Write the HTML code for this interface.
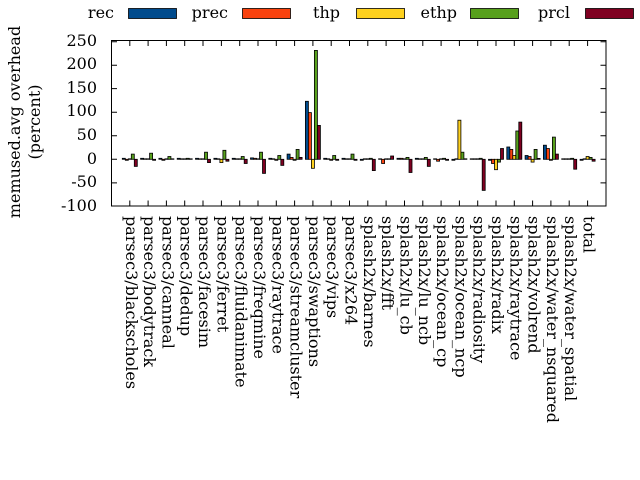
<!DOCTYPE html>
<html><head><meta charset="utf-8"><style>html,body{margin:0;padding:0;background:#fff}svg{display:block}
.a{fill:#004b8d}.b{fill:#f9420e}.c{fill:#fed11e}.d{fill:#57a01c}.e{fill:#7f0021}
rect{stroke:#000;stroke-width:0.8}
</style></head>
<body>
<svg width="640" height="480" xmlns="http://www.w3.org/2000/svg" font-family="DejaVu Serif, serif" font-size="16">
<text x="114" y="18" text-anchor="end">rec</text>
<rect x="128.5" y="8.5" width="48" height="10" class="a"/>
<text x="228" y="18" text-anchor="end">prec</text>
<rect x="242.5" y="8.5" width="48" height="10" class="b"/>
<text x="340" y="18" text-anchor="end">thp</text>
<rect x="356.5" y="8.5" width="48" height="10" class="c"/>
<text x="457" y="18" text-anchor="end">ethp</text>
<rect x="470.5" y="8.5" width="48" height="10" class="d"/>
<text x="570" y="18" text-anchor="end">prcl</text>
<rect x="585.5" y="8.5" width="48" height="10" class="e"/>

<g text-anchor="end">
<text x="97" y="46">250</text><text x="97" y="69">200</text><text x="97" y="93">150</text>
<text x="97" y="116">100</text><text x="97" y="140">50</text><text x="97" y="164">0</text>
<text x="97" y="187">-50</text><text x="97" y="211">-100</text>
</g>
<text transform="translate(20,122) rotate(-90)" text-anchor="middle">memused.avg overhead</text>
<text transform="translate(40,122) rotate(-90)" text-anchor="middle">(percent)</text>

<g stroke="#000" stroke-width="1">
<path d="M111.5 41.8h5.5M111.5 65.3h5.5M111.5 88.6h5.5M111.5 112.2h5.5M111.5 135.7h5.5M111.5 159.3h5.5M111.5 182.9h5.5M606 41.8h-5.5M606 65.3h-5.5M606 88.6h-5.5M606 112.2h-5.5M606 135.7h-5.5M606 159.3h-5.5M606 182.9h-5.5"/>
<path d="M129.8 206v-5.5M148.1 206v-5.5M166.4 206v-5.5M184.7 206v-5.5M203 206v-5.5M221.4 206v-5.5M239.7 206v-5.5M258 206v-5.5M276.3 206v-5.5M294.6 206v-5.5M312.9 206v-5.5M331.2 206v-5.5M349.5 206v-5.5M367.8 206v-5.5M386.1 206v-5.5M404.5 206v-5.5M422.8 206v-5.5M441.1 206v-5.5M459.4 206v-5.5M477.7 206v-5.5M496 206v-5.5M514.3 206v-5.5M532.6 206v-5.5M550.9 206v-5.5M569.2 206v-5.5M587.6 206v-5.5"/>
<path d="M129.8 40.5v5.5M148.1 40.5v5.5M166.4 40.5v5.5M184.7 40.5v5.5M203 40.5v5.5M221.4 40.5v5.5M239.7 40.5v5.5M258 40.5v5.5M276.3 40.5v5.5M294.6 40.5v5.5M312.9 40.5v5.5M331.2 40.5v5.5M349.5 40.5v5.5M367.8 40.5v5.5M386.1 40.5v5.5M404.5 40.5v5.5M422.8 40.5v5.5M441.1 40.5v5.5M459.4 40.5v5.5M477.7 40.5v5.5M496 40.5v5.5M514.3 40.5v5.5M532.6 40.5v5.5M550.9 40.5v5.5M569.2 40.5v5.5M587.6 40.5v5.5"/>
</g>

<!-- bars: x offsets -7.5,-4.5,-1.5,1.5,4.5 -->
<g transform="translate(129.8,0)"><rect x="-7.5" y="158.3" width="3" height="1" class="a"/><rect x="-4.5" y="159.3" width="3" height="1" class="b"/><rect x="-1.5" y="158.8" width="3" height="0.5" class="c"/><rect x="1.5" y="154.1" width="3" height="5.2" class="d"/><rect x="4.5" y="159.3" width="3" height="7.1" class="e"/></g>
<g transform="translate(148.1,0)"><rect x="-7.5" y="158.3" width="3" height="1" class="a"/><rect x="-4.5" y="158.8" width="3" height="0.5" class="b"/><rect x="-1.5" y="158.8" width="3" height="0.5" class="c"/><rect x="1.5" y="153.2" width="3" height="6.1" class="d"/><rect x="4.5" y="159.3" width="3" height="1" class="e"/></g>
<g transform="translate(166.4,0)"><rect x="-7.5" y="158.3" width="3" height="1" class="a"/><rect x="-4.5" y="159.3" width="3" height="1" class="b"/><rect x="-1.5" y="158.8" width="3" height="0.5" class="c"/><rect x="1.5" y="156.5" width="3" height="2.8" class="d"/><rect x="4.5" y="158.8" width="3" height="0.5" class="e"/></g>
<g transform="translate(184.7,0)"><rect x="-7.5" y="158.3" width="3" height="1" class="a"/><rect x="-4.5" y="158.8" width="3" height="0.5" class="b"/><rect x="-1.5" y="158.8" width="3" height="0.5" class="c"/><rect x="1.5" y="158.3" width="3" height="1" class="d"/><rect x="4.5" y="158.8" width="3" height="0.5" class="e"/></g>
<g transform="translate(203,0)"><rect x="-7.5" y="158.3" width="3" height="1" class="a"/><rect x="-4.5" y="158.8" width="3" height="0.5" class="b"/><rect x="-1.5" y="158.8" width="3" height="0.5" class="c"/><rect x="1.5" y="152.2" width="3" height="7.1" class="d"/><rect x="4.5" y="159.3" width="3" height="3.3" class="e"/></g>
<g transform="translate(221.4,0)"><rect x="-7.5" y="158.3" width="3" height="1" class="a"/><rect x="-4.5" y="158.8" width="3" height="0.5" class="b"/><rect x="-1.5" y="159.3" width="3" height="3.3" class="c"/><rect x="1.5" y="150.3" width="3" height="9" class="d"/><rect x="4.5" y="159.3" width="3" height="1.9" class="e"/></g>
<g transform="translate(239.7,0)"><rect x="-7.5" y="158.3" width="3" height="1" class="a"/><rect x="-4.5" y="158.8" width="3" height="0.5" class="b"/><rect x="-1.5" y="158.8" width="3" height="0.5" class="c"/><rect x="1.5" y="156.5" width="3" height="2.8" class="d"/><rect x="4.5" y="159.3" width="3" height="4.2" class="e"/></g>
<g transform="translate(258,0)"><rect x="-7.5" y="157.9" width="3" height="1.4" class="a"/><rect x="-4.5" y="158.3" width="3" height="1" class="b"/><rect x="-1.5" y="158.8" width="3" height="0.5" class="c"/><rect x="1.5" y="152.2" width="3" height="7.1" class="d"/><rect x="4.5" y="159.3" width="3" height="14.1" class="e"/></g>
<g transform="translate(276.3,0)"><rect x="-7.5" y="158.3" width="3" height="1" class="a"/><rect x="-4.5" y="158.8" width="3" height="0.5" class="b"/><rect x="-1.5" y="159.3" width="3" height="1" class="c"/><rect x="1.5" y="155.5" width="3" height="3.8" class="d"/><rect x="4.5" y="159.3" width="3" height="6.1" class="e"/></g>
<g transform="translate(294.6,0)"><rect x="-7.5" y="154.1" width="3" height="5.2" class="a"/><rect x="-4.5" y="157.4" width="3" height="1.9" class="b"/><rect x="-1.5" y="159.3" width="3" height="1" class="c"/><rect x="1.5" y="149.4" width="3" height="9.9" class="d"/><rect x="4.5" y="157.4" width="3" height="1.9" class="e"/></g>
<g transform="translate(312.9,0)"><rect x="-7.5" y="101.3" width="3" height="58" class="a"/><rect x="-4.5" y="112.6" width="3" height="46.7" class="b"/><rect x="-1.5" y="159.3" width="3" height="9" class="c"/><rect x="1.5" y="50.4" width="3" height="108.9" class="d"/><rect x="4.5" y="125.4" width="3" height="33.9" class="e"/></g>
<g transform="translate(331.2,0)"><rect x="-7.5" y="158.3" width="3" height="1" class="a"/><rect x="-4.5" y="158.8" width="3" height="0.5" class="b"/><rect x="-1.5" y="159.3" width="3" height="1" class="c"/><rect x="1.5" y="155.5" width="3" height="3.8" class="d"/><rect x="4.5" y="159.3" width="3" height="1" class="e"/></g>
<g transform="translate(349.5,0)"><rect x="-7.5" y="158.3" width="3" height="1" class="a"/><rect x="-4.5" y="158.8" width="3" height="0.5" class="b"/><rect x="-1.5" y="158.8" width="3" height="0.5" class="c"/><rect x="1.5" y="154.1" width="3" height="5.2" class="d"/><rect x="4.5" y="159.3" width="3" height="1" class="e"/></g>
<g transform="translate(367.8,0)"><rect x="-7.5" y="159.3" width="3" height="1" class="a"/><rect x="-4.5" y="158.8" width="3" height="0.5" class="b"/><rect x="-1.5" y="158.8" width="3" height="0.5" class="c"/><rect x="1.5" y="158.3" width="3" height="1" class="d"/><rect x="4.5" y="159.3" width="3" height="11.3" class="e"/></g>
<g transform="translate(386.1,0)"><rect x="-7.5" y="158.8" width="3" height="0.5" class="a"/><rect x="-4.5" y="159.3" width="3" height="4.2" class="b"/><rect x="-1.5" y="158.8" width="3" height="0.5" class="c"/><rect x="1.5" y="158.8" width="3" height="0.5" class="d"/><rect x="4.5" y="156" width="3" height="3.3" class="e"/></g>
<g transform="translate(404.5,0)"><rect x="-7.5" y="158.3" width="3" height="1" class="a"/><rect x="-4.5" y="158.3" width="3" height="1" class="b"/><rect x="-1.5" y="158.8" width="3" height="0.5" class="c"/><rect x="1.5" y="157.4" width="3" height="1.9" class="d"/><rect x="4.5" y="159.3" width="3" height="13.2" class="e"/></g>
<g transform="translate(422.8,0)"><rect x="-7.5" y="158.3" width="3" height="1" class="a"/><rect x="-4.5" y="158.8" width="3" height="0.5" class="b"/><rect x="-1.5" y="158.8" width="3" height="0.5" class="c"/><rect x="1.5" y="157.4" width="3" height="1.9" class="d"/><rect x="4.5" y="159.3" width="3" height="7.1" class="e"/></g>
<g transform="translate(441.1,0)"><rect x="-7.5" y="158.8" width="3" height="0.5" class="a"/><rect x="-4.5" y="159.3" width="3" height="1.9" class="b"/><rect x="-1.5" y="158.8" width="3" height="0.5" class="c"/><rect x="1.5" y="158.3" width="3" height="1" class="d"/><rect x="4.5" y="159.3" width="3" height="1" class="e"/></g>
<g transform="translate(459.4,0)"><rect x="-7.5" y="159.3" width="3" height="1" class="a"/><rect x="-4.5" y="158.8" width="3" height="0.5" class="b"/><rect x="-1.5" y="120.2" width="3" height="39.1" class="c"/><rect x="1.5" y="152.2" width="3" height="7.1" class="d"/><rect x="4.5" y="158.8" width="3" height="0.5" class="e"/></g>
<g transform="translate(477.7,0)"><rect x="-7.5" y="158.8" width="3" height="0.5" class="a"/><rect x="-4.5" y="158.8" width="3" height="0.5" class="b"/><rect x="-1.5" y="158.8" width="3" height="0.5" class="c"/><rect x="1.5" y="158.3" width="3" height="1" class="d"/><rect x="4.5" y="159.3" width="3" height="31.1" class="e"/></g>
<g transform="translate(496,0)"><rect x="-7.5" y="159.3" width="3" height="1" class="a"/><rect x="-4.5" y="159.3" width="3" height="4.2" class="b"/><rect x="-1.5" y="159.3" width="3" height="10.4" class="c"/><rect x="1.5" y="159.3" width="3" height="2.8" class="d"/><rect x="4.5" y="148.5" width="3" height="10.8" class="e"/></g>
<g transform="translate(514.3,0)"><rect x="-7.5" y="147" width="3" height="12.3" class="a"/><rect x="-4.5" y="149.4" width="3" height="9.9" class="b"/><rect x="-1.5" y="155.5" width="3" height="3.8" class="c"/><rect x="1.5" y="131" width="3" height="28.3" class="d"/><rect x="4.5" y="122.1" width="3" height="37.2" class="e"/></g>
<g transform="translate(532.6,0)"><rect x="-7.5" y="155.5" width="3" height="3.8" class="a"/><rect x="-4.5" y="156.5" width="3" height="2.8" class="b"/><rect x="-1.5" y="159.3" width="3" height="2.8" class="c"/><rect x="1.5" y="149.4" width="3" height="9.9" class="d"/><rect x="4.5" y="158.4" width="3" height="0.9" class="e"/></g>
<g transform="translate(550.9,0)"><rect x="-7.5" y="145.2" width="3" height="14.1" class="a"/><rect x="-4.5" y="148.5" width="3" height="10.8" class="b"/><rect x="-1.5" y="159.3" width="3" height="1" class="c"/><rect x="1.5" y="137.1" width="3" height="22.2" class="d"/><rect x="4.5" y="154.1" width="3" height="5.2" class="e"/></g>
<g transform="translate(569.2,0)"><rect x="-7.5" y="158.8" width="3" height="0.5" class="a"/><rect x="-4.5" y="158.8" width="3" height="0.5" class="b"/><rect x="-1.5" y="158.8" width="3" height="0.5" class="c"/><rect x="1.5" y="158.3" width="3" height="1" class="d"/><rect x="4.5" y="159.3" width="3" height="9.9" class="e"/></g>
<g transform="translate(587.6,0)"><rect x="-7.5" y="159.3" width="3" height="1" class="a"/><rect x="-4.5" y="158.8" width="3" height="0.5" class="b"/><rect x="-1.5" y="156.5" width="3" height="2.8" class="c"/><rect x="1.5" y="157.4" width="3" height="1.9" class="d"/><rect x="4.5" y="159.3" width="3" height="1.9" class="e"/></g>

<rect x="111.5" y="40.5" width="494.5" height="165.5" fill="none" style="stroke:#000;stroke-width:1"/>

<g>
<text transform="translate(125.8,216) rotate(90)">parsec3/blackscholes</text>
<text transform="translate(144.1,216) rotate(90)">parsec3/bodytrack</text>
<text transform="translate(162.4,216) rotate(90)">parsec3/canneal</text>
<text transform="translate(180.7,216) rotate(90)">parsec3/dedup</text>
<text transform="translate(199,216) rotate(90)">parsec3/facesim</text>
<text transform="translate(217.4,216) rotate(90)">parsec3/ferret</text>
<text transform="translate(235.7,216) rotate(90)">parsec3/fluidanimate</text>
<text transform="translate(254,216) rotate(90)">parsec3/freqmine</text>
<text transform="translate(272.3,216) rotate(90)">parsec3/raytrace</text>
<text transform="translate(290.6,216) rotate(90)">parsec3/streamcluster</text>
<text transform="translate(308.9,216) rotate(90)">parsec3/swaptions</text>
<text transform="translate(327.2,216) rotate(90)">parsec3/vips</text>
<text transform="translate(345.5,216) rotate(90)">parsec3/x264</text>
<text transform="translate(363.8,216) rotate(90)">splash2x/barnes</text>
<text transform="translate(382.1,216) rotate(90)">splash2x/fft</text>
<text transform="translate(400.5,216) rotate(90)">splash2x/lu_cb</text>
<text transform="translate(418.8,216) rotate(90)">splash2x/lu_ncb</text>
<text transform="translate(437.1,216) rotate(90)">splash2x/ocean_cp</text>
<text transform="translate(455.4,216) rotate(90)">splash2x/ocean_ncp</text>
<text transform="translate(473.7,216) rotate(90)">splash2x/radiosity</text>
<text transform="translate(492,216) rotate(90)">splash2x/radix</text>
<text transform="translate(510.3,216) rotate(90)">splash2x/raytrace</text>
<text transform="translate(528.6,216) rotate(90)">splash2x/volrend</text>
<text transform="translate(546.9,216) rotate(90)">splash2x/water_nsquared</text>
<text transform="translate(565.2,216) rotate(90)">splash2x/water_spatial</text>
<text transform="translate(583.6,216) rotate(90)">total</text>
</g>
</svg>
</body></html>
